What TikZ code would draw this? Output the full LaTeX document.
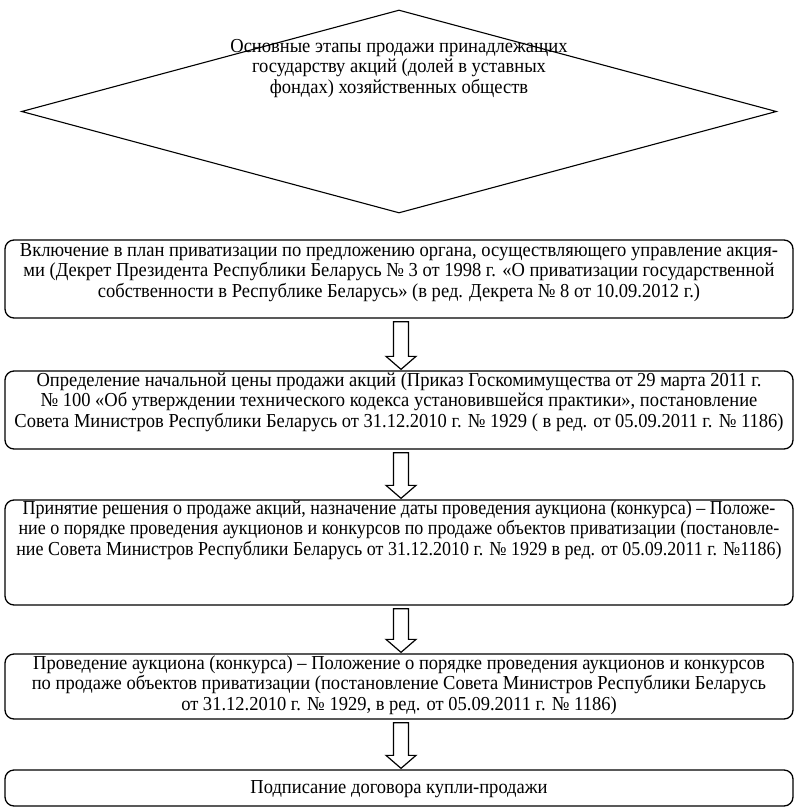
\documentclass[tikz,border=0pt]{standalone}
\usepackage{fontspec}
\setmainfont{Liberation Serif}[FakeStretch=0.935]
\newfontfamily\tightserif{Liberation Serif}[FakeStretch=0.91]
\usetikzlibrary{shapes.geometric,calc}

\tikzset{
  stage/.style={draw, rounded corners=9pt, line width=1.3pt, minimum width=788pt,
                inner sep=0pt},
  stagetext/.style={anchor=north, inner sep=0pt, align=center,
                    font=\fontsize{19.8}{20.7}\selectfont},
  goal/.style={draw, diamond, line width=1.1pt, minimum width=755pt,
               minimum height=203pt, inner sep=0pt},
  hollow/.style={draw, line width=1.2pt, fill=white, line join=miter},
}

% hollow downward block arrow from one stage to the next
\newcommand\stagearrow[2]{%
  \draw[hollow] let \p1=($(#1.south)+(2,3)$), \p2=($(#2.north)+(2,-1)$) in
    (\x1-7.5pt,\y1) -- (\x1+7.5pt,\y1) -- (\x1+7.5pt,\y2+13pt) --
    (\x1+15pt,\y2+13pt) -- (\x1,\y2) -- (\x1-15pt,\y2+13pt) --
    (\x1-7.5pt,\y2+13pt) -- cycle;}

\begin{document}
\begin{tikzpicture}[x=1pt,y=-1pt]
\useasboundingbox[fill=white] (0,0) rectangle (796,808);

\node[goal] (goal) at (399,111.5) {};
\node[stagetext] (goaltext) at (399,37.5)
  {\strut Основные этапы продажи принадлежащих\\
   государству акций (долей в уставных\\
   фондах) хозяйственных обществ};

\node[stage, minimum height=78pt] (s1) at (399,279) {};
\node[stagetext] (t1) at ($(s1.north)+(0,2)$)
  {\strut Включение в план приватизации по предложению органа, осуществляющего управление акция-\\
   ми (Декрет Президента Республики Беларусь № 3 от 1998 г. «О приватизации государственной\\
   собственности в Республике Беларусь» (в ред. Декрета № 8 от 10.09.2012 г.)};

\node[stage, minimum height=78pt] (s2) at (399,410) {};
\node[stagetext] (t2) at ($(s2.north)+(0,1)$)
  {\strut Определение начальной цены продажи акций (Приказ Госкомимущества от 29 марта 2011 г.\\
   № 100 «Об утверждении технического кодекса установившейся практики», постановление\\
   Совета Министров Республики Беларусь от 31.12.2010 г. № 1929 ( в ред. от 05.09.2011 г. № 1186)};

\node[stage, minimum height=105pt] (s3) at (399,552.5) {};
\node[stagetext, font=\fontsize{19.8}{20.7}\tightserif] (t3) at ($(s3.north)+(0,0)$)
  {\strut Принятие решения о продаже акций, назначение даты проведения аукциона (конкурса) – Положе-\\
   ние о порядке проведения аукционов и конкурсов по продаже объектов приватизации (постановле-\\
   ние Совета Министров Республики Беларусь от 31.12.2010 г. № 1929 в ред. от 05.09.2011 г. №1186)};

\node[stage, minimum height=65pt] (s4) at (399,686.5) {};
\node[stagetext] (t4) at ($(s4.north)+(0,1)$)
  {\strut Проведение аукциона (конкурса) – Положение о порядке проведения аукционов и конкурсов\\
   по продаже объектов приватизации (постановление Совета Министров Республики Беларусь\\
   от 31.12.2010 г. № 1929, в ред. от 05.09.2011 г. № 1186)};

\node[stage, minimum height=36pt] (s5) at (399,788) {};
\node[stagetext, anchor=center] (t5) at ($(s5.center)+(0,1.5)$) {Подписание договора купли-продажи};

\stagearrow{s1}{s2}
\stagearrow{s2}{s3}
\stagearrow{s3}{s4}
\stagearrow{s4}{s5}
\end{tikzpicture}
\end{document}
